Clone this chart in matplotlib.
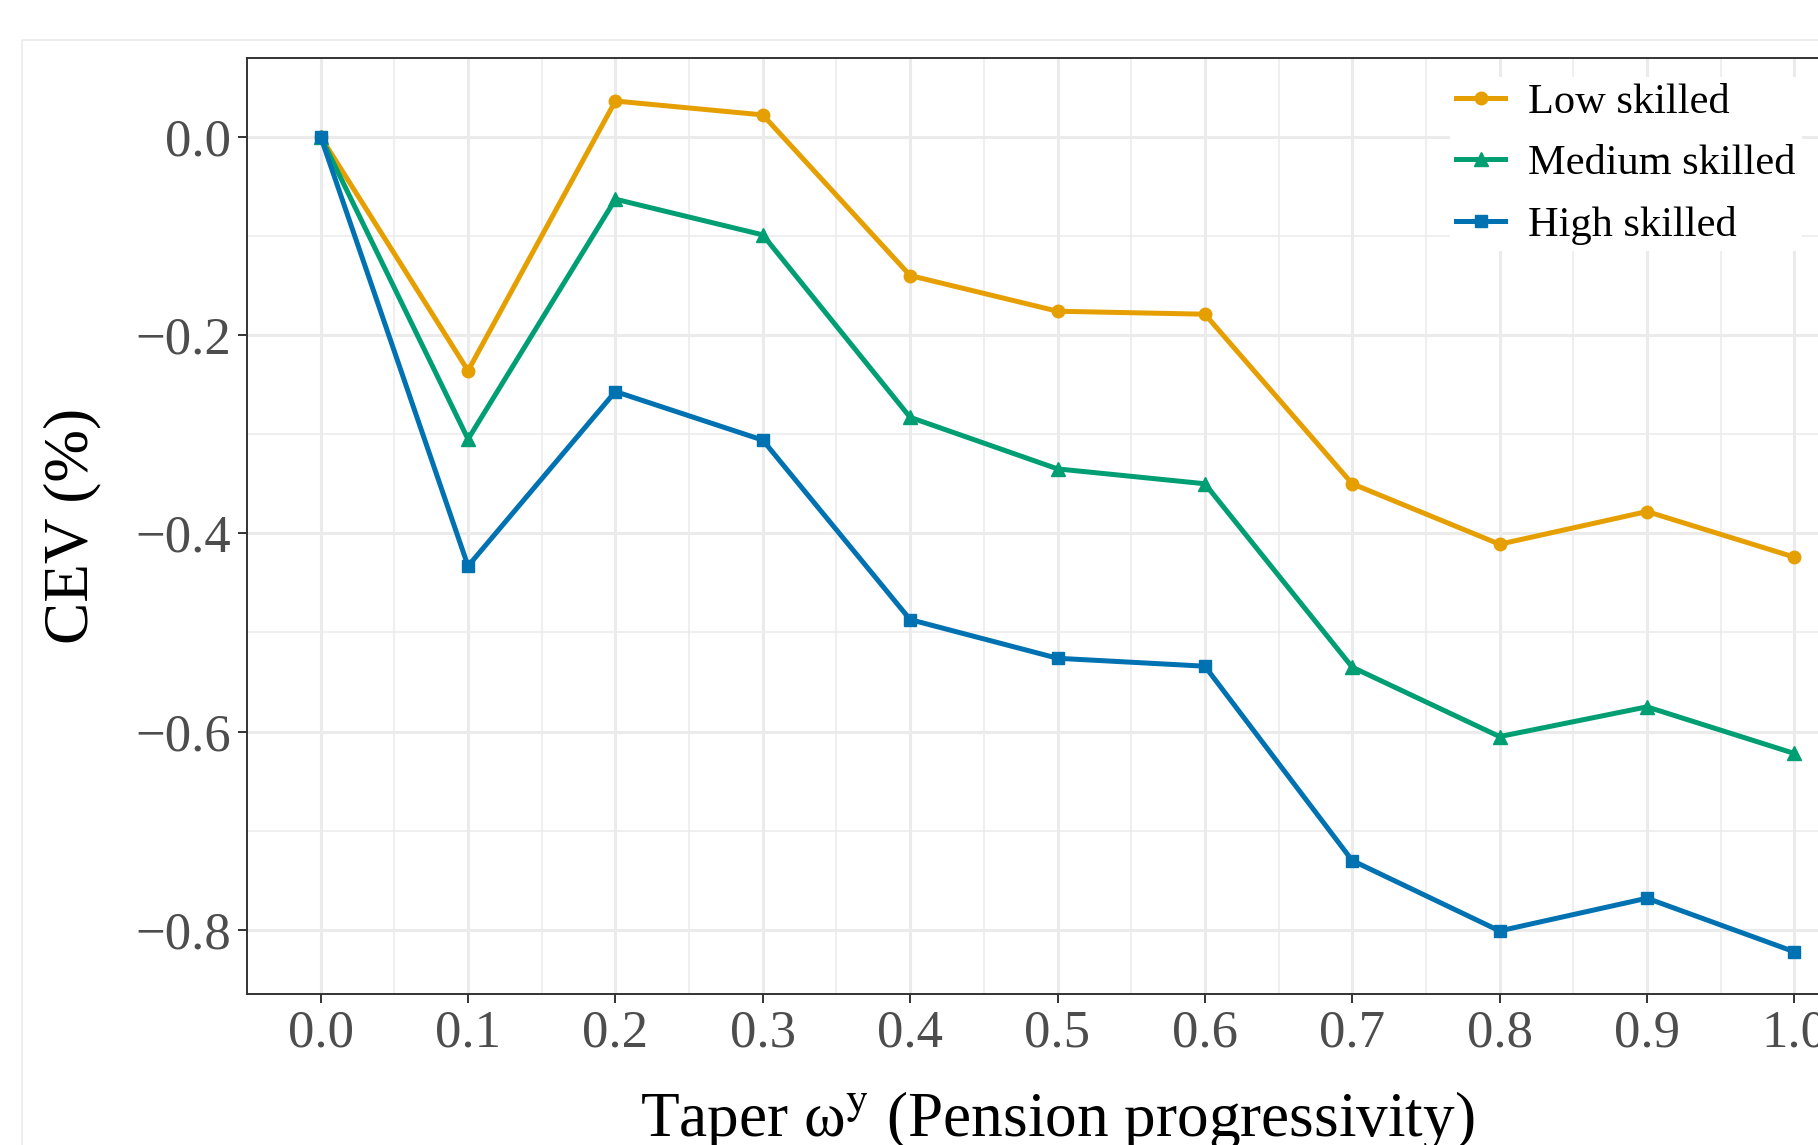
import matplotlib
matplotlib.use("Agg")
import matplotlib.pyplot as plt
from matplotlib.patches import Rectangle
from matplotlib.ticker import MultipleLocator

taper = [0.0, 0.1, 0.2, 0.3, 0.4, 0.5, 0.6, 0.7, 0.8, 0.9, 1.0]
low = [0.0, -0.236, 0.036, 0.022, -0.140, -0.176, -0.179, -0.350, -0.411, -0.378, -0.424]
medium = [0.0, -0.305, -0.063, -0.099, -0.283, -0.335, -0.350, -0.535, -0.605, -0.575, -0.622]
high = [0.0, -0.433, -0.257, -0.306, -0.487, -0.526, -0.534, -0.730, -0.801, -0.768, -0.822]
series_names = ["Low skilled", "Medium skilled", "High skilled"]
xticks = [0.0, 0.1, 0.2, 0.3, 0.4, 0.5, 0.6, 0.7, 0.8, 0.9, 1.0]
yticks = [0.0, -0.2, -0.4, -0.6, -0.8]

plt.rcParams['font.family'] = ['Liberation Serif', 'DejaVu Serif']
plt.rcParams['mathtext.fontset'] = 'stix'

W, H = 1818, 1145
fig = plt.figure(figsize=(W / 100, H / 100), dpi=100)
fig.patch.set_facecolor('white')
fig.patches.append(Rectangle((22 / W, -0.1), 1.2, 1 - 40 / H + 0.1, transform=fig.transFigure,
                             facecolor='none', edgecolor='#EBEBEB', lw=1.2, zorder=0))

left, right, top, bottom = 247 / W, 1868 / W, 1 - 58 / H, 1 - 994 / H
ax = fig.add_axes([left, bottom, right - left, top - bottom])
ax.set_xlim(-0.05, 1.05)
ax.set_ylim(-0.8646, 0.0794)

ax.xaxis.set_minor_locator(MultipleLocator(0.05))
ax.yaxis.set_minor_locator(MultipleLocator(0.1))
ax.set_xticks(xticks)
ax.set_xticklabels([f"{v:.1f}" for v in xticks])
ax.set_yticks(yticks)
ax.set_yticklabels([("\u2212" if v < 0 else "") + f"{abs(v):.1f}" for v in yticks])

ax.grid(which='major', color='#EBEBEB', lw=2.2, zorder=0)
ax.grid(which='minor', color='#EBEBEB', lw=1.1, zorder=0)
ax.set_axisbelow(True)
ax.tick_params(which='minor', length=0)
ax.tick_params(which='major', length=6.5, width=1.4, color='#333333',
               labelsize=38, labelcolor='#4D4D4D', pad=5)
for s in ax.spines.values():
    s.set_color('#333333')
    s.set_linewidth(1.4)

styles = [('#E69F00', 'o', 9), ('#009E73', '^', 10), ('#0072B2', 's', 9)]
for vals, name, (c, m, ms) in zip([low, medium, high], series_names, styles):
    ax.plot(taper, vals, color=c, marker=m, markersize=ms, lw=3.6, label=name,
            clip_on=False, zorder=3)

ax.set_ylabel("CEV (%)", fontsize=45.5, labelpad=24)
ax.set_xlabel("Taper \u03c9$^{\\mathrm{y}}$ (Pension progressivity)", fontsize=45.5, labelpad=22)

leg = ax.legend(loc='upper left', bbox_to_anchor=(1450 / W, 1 - 77 / H),
                bbox_transform=fig.transFigure, fontsize=30.5, frameon=True,
                fancybox=False, edgecolor='none', facecolor='white', framealpha=1,
                handlelength=1.15, handletextpad=0.55, labelspacing=0.53,
                borderpad=0.15, borderaxespad=0)

fig.savefig("out.png", dpi=100)
